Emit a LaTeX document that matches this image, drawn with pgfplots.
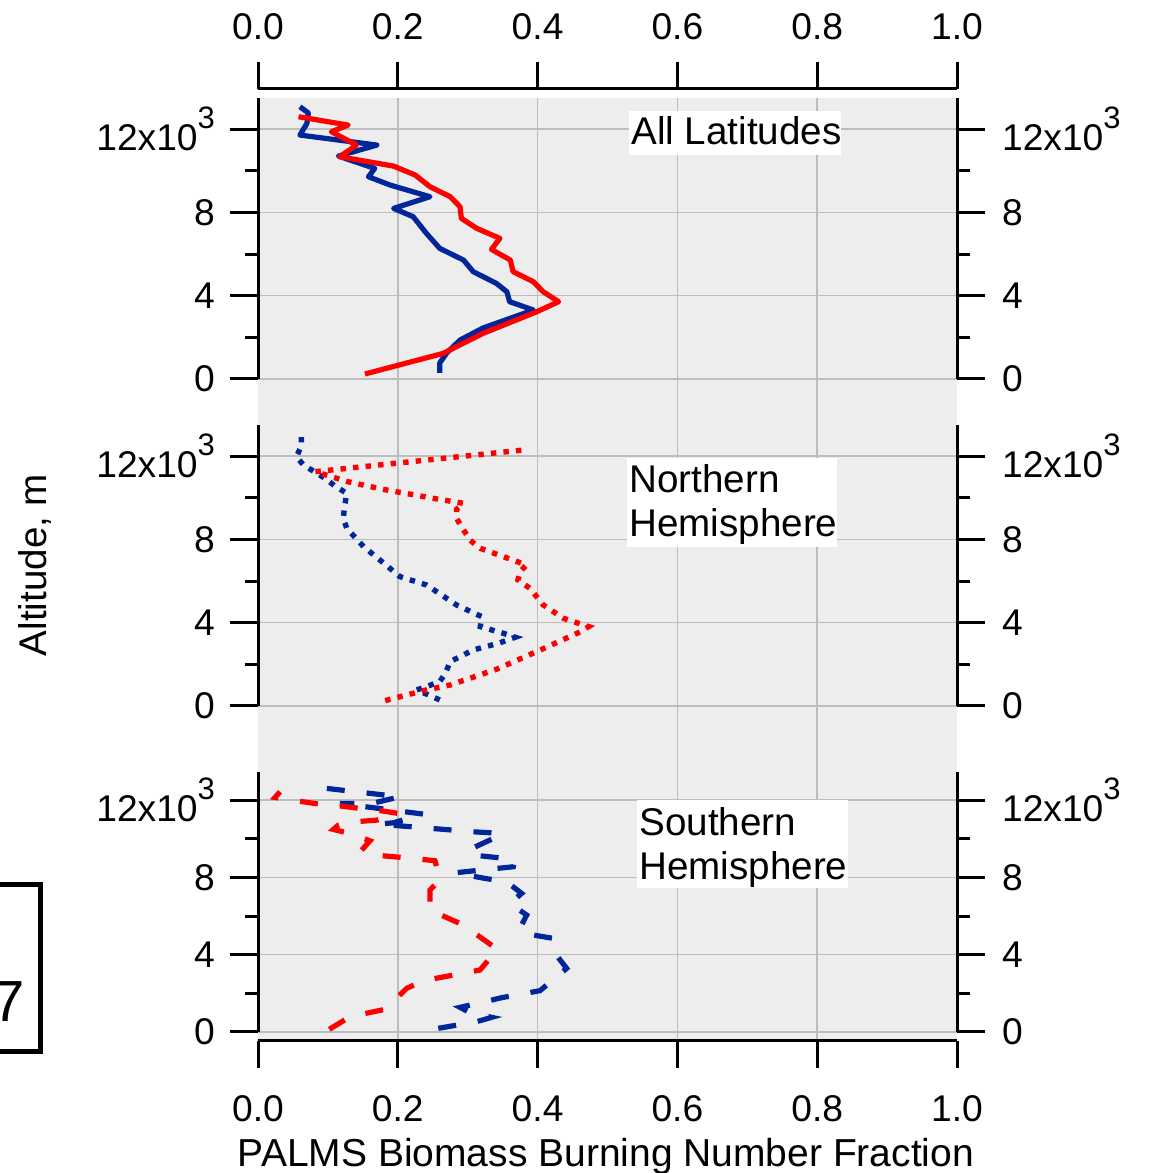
\documentclass[border=0pt]{standalone}
\usepackage{pgfplots}
\pgfplotsset{compat=1.18}
\usepackage{fontspec}
\setmainfont{Liberation Sans}
\definecolor{bggray}{HTML}{EDEDED}
\definecolor{gridgray}{HTML}{BDBDBD}
\definecolor{dblue}{RGB}{0,38,153}
\definecolor{dred}{RGB}{255,0,0}
\newcommand{\sups}{\raisebox{0.6em}{\fontsize{15.5}{15}\selectfont 3}}
\newcommand{\tickfont}{\fontsize{18.6}{21}\selectfont}
\newcommand{\labfont}{\fontsize{19.3}{22}\selectfont}
\pgfplotsset{
  panel/.style={scale only axis, width=349.5pt, xmin=0, xmax=1, ymin=0, clip=false,
    axis lines=box, separate axis lines, x axis line style={draw=none},
    y axis line style={line width=1.5pt, black},
    xtick=\empty, ytick pos=both,
    ytick={0,4000,8000,12000}, minor ytick={2000,6000,10000},
    yticklabels={0,4,8,{12x10\sups}}, scaled y ticks=false, tick align=outside,
    major tick length=14pt, minor tick length=6.5pt,
    tick style={line width=1.5pt, black},
    yticklabel style={font=\tickfont, xshift=-4pt},
    grid style={gridgray, line width=0.75pt}},
  rpanel/.style={panel, yticklabel pos=right, yticklabel style={xshift=9pt}},
  solidl/.style={line width=2.6pt, line join=round},
  dotl/.style={line width=2.7pt, dash pattern=on 2.7pt off 3.6pt},
  dashl/.style={line width=2.6pt, dash pattern=on 9pt off 11pt}
}
\begin{document}
\begin{tikzpicture}
\path[use as bounding box] (0,0) rectangle (576pt,586.5pt);
\clip (0,0) rectangle (576pt,586.5pt);
% background
\begin{axis}[scale only axis, width=349.5pt, height=470.5pt, at={(129pt,67pt)}, anchor=south west,
  xmin=0, xmax=1, ymin=0, ymax=1, axis background/.style={fill=bggray},
  axis line style={draw=none}, tick style={draw=none}, xtick={0.2,0.4,0.6,0.8}, ytick=\empty,
  xticklabels={}, major tick length=0pt, xmajorgrids, grid style={gridgray, line width=0.75pt}]
\end{axis}
% top x axis
\begin{axis}[scale only axis, width=349.5pt, height=476pt, at={(129pt,66pt)}, anchor=south west,
  xmin=0, xmax=1, ymin=0, ymax=1, axis x line=top, axis y line=none,
  xtick={0,0.2,0.4,0.6,0.8,1}, xticklabels={0.0,0.2,0.4,0.6,0.8,1.0},
  tick align=outside, major tick length=13.5pt, axis line style={-, line width=1.5pt, black},
  tick style={line width=1.5pt, black}, xticklabel style={font=\tickfont, yshift=7.5pt}]
\end{axis}
% bottom x axis
\begin{axis}[scale only axis, width=349.5pt, height=476pt, at={(129pt,66pt)}, anchor=south west,
  xmin=0, xmax=1, ymin=0, ymax=1, axis x line=bottom, axis y line=none,
  xtick={0,0.2,0.4,0.6,0.8,1}, xticklabels={0.0,0.2,0.4,0.6,0.8,1.0},
  tick align=outside, major tick length=13.5pt, axis line style={-, line width=1.5pt, black},
  tick style={line width=1.5pt, black}, xticklabel style={font=\tickfont, yshift=-10pt}]
\end{axis}
% ---------- top panel
\begin{axis}[panel, height=140.5pt, at={(129pt,397pt)}, anchor=south west, ymax=13490, ymajorgrids]
\addplot[dblue, solidl] coordinates {(0.260,290)(0.260,770)(0.270,1250)(0.289,1870)(0.322,2450)(0.394,3310)(0.360,3710)(0.356,4190)(0.341,4590)(0.308,5150)(0.294,5710)(0.260,6270)(0.241,6990)(0.222,7790)(0.194,8190)(0.246,8750)(0.189,9310)(0.158,9710)(0.167,10110)(0.115,10700)(0.170,11230)(0.060,11710)(0.070,12270)(0.072,12770)(0.060,13070)};
\addplot[dred, solidl] coordinates {(0.153,240)(0.265,1230)(0.322,2190)(0.399,3230)(0.430,3710)(0.408,4190)(0.394,4670)(0.365,5150)(0.361,5710)(0.334,6220)(0.346,6750)(0.313,7230)(0.291,7710)(0.289,8270)(0.275,8750)(0.246,9230)(0.225,9790)(0.194,10220)(0.117,10670)(0.141,11230)(0.105,11870)(0.129,12190)(0.058,12590)};
\end{axis}
\begin{axis}[rpanel, height=140.5pt, at={(129pt,397pt)}, anchor=south west, ymax=13490]
\end{axis}
% ---------- middle panel
\begin{axis}[panel, height=140.5pt, at={(129pt,233.5pt)}, anchor=south west, ymax=13490, ymajorgrids]
\addplot[dblue, dotl] coordinates {(0.260,290)(0.244,530)(0.227,770)(0.241,930)(0.260,1170)(0.268,1570)(0.275,2130)(0.308,2690)(0.344,3010)(0.368,3300)(0.351,3490)(0.318,3810)(0.320,4290)(0.284,4850)(0.241,5810)(0.203,6210)(0.179,6880)(0.151,7650)(0.127,8530)(0.122,9010)(0.124,9600)(0.127,10210)(0.110,10560)(0.096,10930)(0.065,11570)(0.055,11970)(0.062,12480)(0.062,12960)};
\addplot[dred, dotl] coordinates {(0.182,260)(0.237,740)(0.275,1010)(0.341,1760)(0.408,2750)(0.461,3560)(0.473,3810)(0.437,4210)(0.408,4850)(0.389,5650)(0.372,6050)(0.375,6450)(0.384,6770)(0.351,7170)(0.318,7570)(0.303,7970)(0.284,9010)(0.284,9440)(0.294,9730)(0.256,9940)(0.179,10400)(0.127,10780)(0.082,11250)(0.380,12290)};
\end{axis}
\begin{axis}[rpanel, height=140.5pt, at={(129pt,233.5pt)}, anchor=south west, ymax=13490]
\end{axis}
% ---------- bottom panel
\begin{axis}[panel, height=130pt, at={(129pt,70.5pt)}, anchor=south west, ymax=13450, ymajorgrids]
\addplot[dblue, dashl] coordinates {(0.2580,190)(0.3128,534)(0.3343,758)(0.3033,999)(0.2890,1275)(0.3247,1568)(0.3486,1775)(0.4034,2137)(0.4416,3291)(0.4249,4067)(0.4225,4843)(0.3939,5015)(0.3739,5308)(0.3844,6049)(0.3605,6652)(0.3772,7169)(0.3557,7772)(0.3247,7944)(0.2818,8237)(0.3653,8548)(0.3677,8927)(0.3080,9151)(0.3009,9409)(0.3367,10013)(0.3486,10271)(0.3080,10357)(0.1722,10754)(0.1936,10822)(0.2365,11271)(0.1173,11822)(0.1626,11822)(0.2031,12167)(0.0863,12650)};
\addplot[dred, dashl] coordinates {(0.1020,138)(0.1316,793)(0.1817,1172)(0.2127,2258)(0.2365,2654)(0.3176,3205)(0.3424,4274)(0.2938,5532)(0.2461,6307)(0.2461,7341)(0.2604,7893)(0.2532,8858)(0.2222,8979)(0.1674,9151)(0.1483,9409)(0.1602,9892)(0.1316,10271)(0.1078,10478)(0.1149,10702)(0.1388,10874)(0.1698,10960)(0.2008,11305)(0.1769,11443)(0.1459,11564)(0.1197,11684)(0.0911,11771)(0.0648,11908)(0.0243,12132)(0.0315,12425)};
\end{axis}
\begin{axis}[rpanel, height=130pt, at={(129pt,70.5pt)}, anchor=south west, ymax=13450]
\end{axis}
% annotation boxes
\fill[white] (314.5pt,531pt) rectangle (420.5pt,509pt);
\node[anchor=base west, inner sep=0pt, font=\labfont] at (315.5pt,514pt) {All Latitudes};
\fill[white] (313.5pt,357.5pt) rectangle (418.5pt,313pt);
\node[anchor=base west, inner sep=0pt, font=\labfont] at (314.5pt,340pt) {Northern};
\node[anchor=base west, inner sep=0pt, font=\labfont] at (314.5pt,318pt) {Hemisphere};
\fill[white] (318.5pt,186.5pt) rectangle (424pt,142.5pt);
\node[anchor=base west, inner sep=0pt, font=\labfont] at (319.5pt,168.5pt) {Southern};
\node[anchor=base west, inner sep=0pt, font=\labfont] at (319.5pt,146.5pt) {Hemisphere};
% axis titles
\node[rotate=90, font=\labfont] at (17.5pt,304pt) {Altitude, m};
\node[anchor=base, inner sep=0pt, font=\fontsize{19.5}{22}\selectfont] at (303pt,3pt) {PALMS Biomass Burning Number Fraction};
% cropped panel marker at left edge
\draw[line width=2.5pt] (-20pt,144pt) rectangle (20pt,60.5pt);
\node[anchor=base east, inner sep=0pt, font=\fontsize{29}{32}\selectfont] at (12.5pt,75.5pt) {7};
\end{tikzpicture}
\end{document}
